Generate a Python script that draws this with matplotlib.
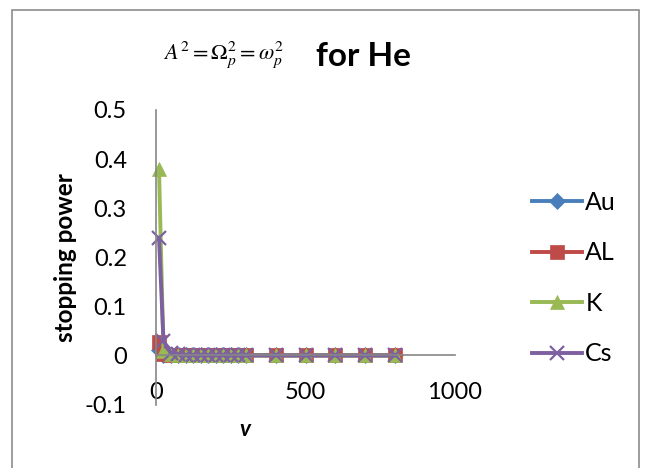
import matplotlib.pyplot as plt
from matplotlib.patches import Rectangle

# velocity values (x) and stopping power per target
v = [10, 25, 50, 75, 100, 125, 150, 175, 200, 225, 250, 275, 300, 400, 500, 600, 700, 800]
au = [0.012, 0.001, 0.0004, 0.0002, 0.0001, 0.0001, 0.0001, 0.0001, 0.0001, 0.0001,
      0.0001, 0.0001, 0.0001, 0.0, 0.0, 0.0, 0.0, 0.0]
al = [0.028, 0.003, 0.001, 0.0005, 0.0003, 0.0002, 0.0002, 0.0001, 0.0001, 0.0001,
      0.0001, 0.0001, 0.0001, 0.0, 0.0, 0.0, 0.0, 0.0]
k = [0.38, 0.008, 0.002, 0.001, 0.0006, 0.0004, 0.0003, 0.0002, 0.0002, 0.0001,
     0.0001, 0.0001, 0.0001, 0.0001, 0.0, 0.0, 0.0, 0.0]
cs = [0.24, 0.03, 0.004, 0.002, 0.001, 0.0007, 0.0005, 0.0004, 0.0003, 0.0002,
      0.0002, 0.0001, 0.0001, 0.0001, 0.0, 0.0, 0.0, 0.0]

series = [
    ("Au", au, "#4A7EBB", "D", 8),
    ("AL", al, "#BE4B48", "s", 10),
    ("K", k, "#98B954", "^", 10),
    ("Cs", cs, "#7D60A0", "x", 10),
]

plt.rcParams["font.family"] = ["Lato", "DejaVu Sans"]

W, H = 648, 468
fig = plt.figure(figsize=(W / 100, H / 100), dpi=100)

# gray chart border
fig.patches.append(Rectangle((12 / W, -0.01), 627 / W, 1 - 10 / H + 0.01,
                             transform=fig.transFigure, fill=False,
                             edgecolor="#8c8c8c", linewidth=1.2))

ax = fig.add_axes([156 / W, 1 - 404.5 / H, 299 / W, 294.5 / H])

for name, vals, col, mk, ms in series:
    ax.plot(v, vals, color=col, linewidth=2.8, marker=mk, markersize=ms,
            markeredgewidth=1.6 if mk == "x" else 0.5, markeredgecolor=col,
            label=name, clip_on=False)

ax.set_xlim(0, 1000)
ax.set_ylim(-0.1, 0.5)
ax.set_xticks([0, 500, 1000])
ax.set_yticks([-0.1, 0, 0.1, 0.2, 0.3, 0.4, 0.5])
ax.set_yticklabels(["-0.1", "0", "0.1", "0.2", "0.3", "0.4", "0.5"])

for s in ["top", "right"]:
    ax.spines[s].set_visible(False)
ax.spines["bottom"].set_position(("data", 0))
ax.spines["left"].set_color("#868686")
ax.spines["bottom"].set_color("#868686")
ax.spines["left"].set_linewidth(1.2)
ax.spines["bottom"].set_linewidth(1.2)
ax.tick_params(axis="both", length=0, labelsize=17, colors="black")
ax.tick_params(axis="y", pad=21)
ax.tick_params(axis="x", pad=19)

ax.set_ylabel("stopping power", fontsize=17.5, fontweight="bold")
ax.yaxis.set_label_coords(-0.265, 0.5)
fig.text(245 / W, 1 - 430 / H, "v", fontsize=16, fontweight="bold", style="italic",
         ha="center", va="center")

fig.text(224 / W, 1 - 55 / H, r"$A^2 = \Omega_p^2 = \omega_p^2$", fontsize=16,
         ha="center", va="center", math_fontfamily="stix")
fig.text(363 / W, 1 - 56 / H, "for He", fontsize=24, fontweight="bold",
         ha="center", va="center")

ax.legend(loc="center left", bbox_to_anchor=(509 / W, 1 - 278 / H),
          bbox_transform=fig.transFigure, frameon=False, fontsize=18,
          handlelength=2.0, handletextpad=0.15, labelspacing=1.1)

fig.savefig("out.png", dpi=100)
